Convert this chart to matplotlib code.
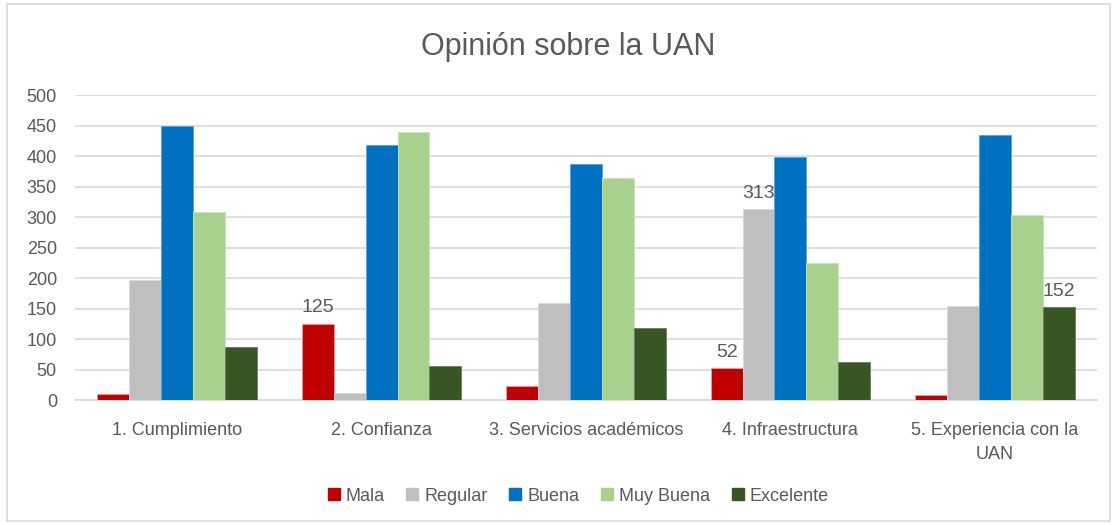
import numpy as np
import matplotlib.pyplot as plt
from matplotlib.patches import Rectangle
from matplotlib.lines import Line2D

plt.rcParams['font.family'] = ['Liberation Sans Narrow', 'Liberation Sans', 'DejaVu Sans']

categories = ['1. Cumplimiento', '2. Confianza', '3. Servicios académicos',
              '4. Infraestructura', '5. Experiencia con la\nUAN']
series_names = ['Mala', 'Regular', 'Buena', 'Muy Buena', 'Excelente']
mala = [10, 125, 23, 52, 8]
regular = [197, 12, 159, 313, 154]
buena = [449, 418, 387, 398, 434]
muy_buena = [308, 439, 364, 225, 303]
excelente = [87, 55, 118, 62, 152]
# labels shown in the chart: (series index, category index)
shown_labels = [(0, 1), (0, 3), (1, 3), (4, 4)]

colors = ['#C00000', '#BFBFBF', '#0070C0', '#A9D18E', '#375623']
edges = ['#E8A0A0', '#D9D9D9', '#5BA3D9', '#C9E4B8', '#6B7D5C']
text_color = '#595959'

series = [mala, regular, buena, muy_buena, excelente]

fig = plt.figure(figsize=(11.17, 5.25), dpi=100)
fig.patches.append(Rectangle((0.006, 0.008), 0.988, 0.984, transform=fig.transFigure,
                             fill=False, edgecolor='#D9D9D9', linewidth=1.2))
ax = fig.add_axes([0.0671, 0.238, 0.915, 0.581])

x = np.arange(len(categories))
width = 0.156
for i, vals in enumerate(series):
    offs = (i - 2) * width
    bars = ax.bar(x + offs, vals, width, color=colors[i], edgecolor=edges[i],
                  linewidth=0.6, zorder=3, label=series_names[i])
    for si, ci in shown_labels:
        if si == i:
            ax.text(x[ci] + offs, vals[ci] + 12, str(vals[ci]), ha='center', va='bottom',
                    fontsize=14, color=text_color, zorder=4)

ax.set_xlim(-0.5, len(categories) - 0.5)
ax.set_ylim(0, 500)
ax.set_yticks(np.arange(0, 501, 50))
ax.yaxis.grid(True, color='#D9D9D9', linewidth=1.2, zorder=0)
ax.set_axisbelow(True)
for s in ['top', 'right', 'left']:
    ax.spines[s].set_visible(False)
ax.spines['bottom'].set_color('#D9D9D9')
ax.spines['bottom'].set_linewidth(1.2)
ax.tick_params(axis='both', length=0, labelsize=13, colors=text_color)
ax.tick_params(axis='x', pad=16)
ax.tick_params(axis='y', pad=13)
ax.set_xticks(x)
ax.set_xticklabels(categories, linespacing=1.5)
for lbl in ax.get_xticklabels():
    lbl.set_verticalalignment('top')

fig.text(0.509, 0.91, 'Opinión sobre la UAN', ha='center', va='center',
         fontsize=22, color=text_color)

handles = [Line2D([], [], marker='s', linestyle='none', markersize=8,
                  markerfacecolor=c, markeredgecolor=c) for c in colors]
fig.legend(handles, series_names, loc='center', bbox_to_anchor=(0.515, 0.055),
           ncol=5, frameon=False, fontsize=13, handletextpad=0.0, columnspacing=0.9,
           handlelength=1.3, labelcolor=text_color)

fig.savefig('out.png', dpi=100)
